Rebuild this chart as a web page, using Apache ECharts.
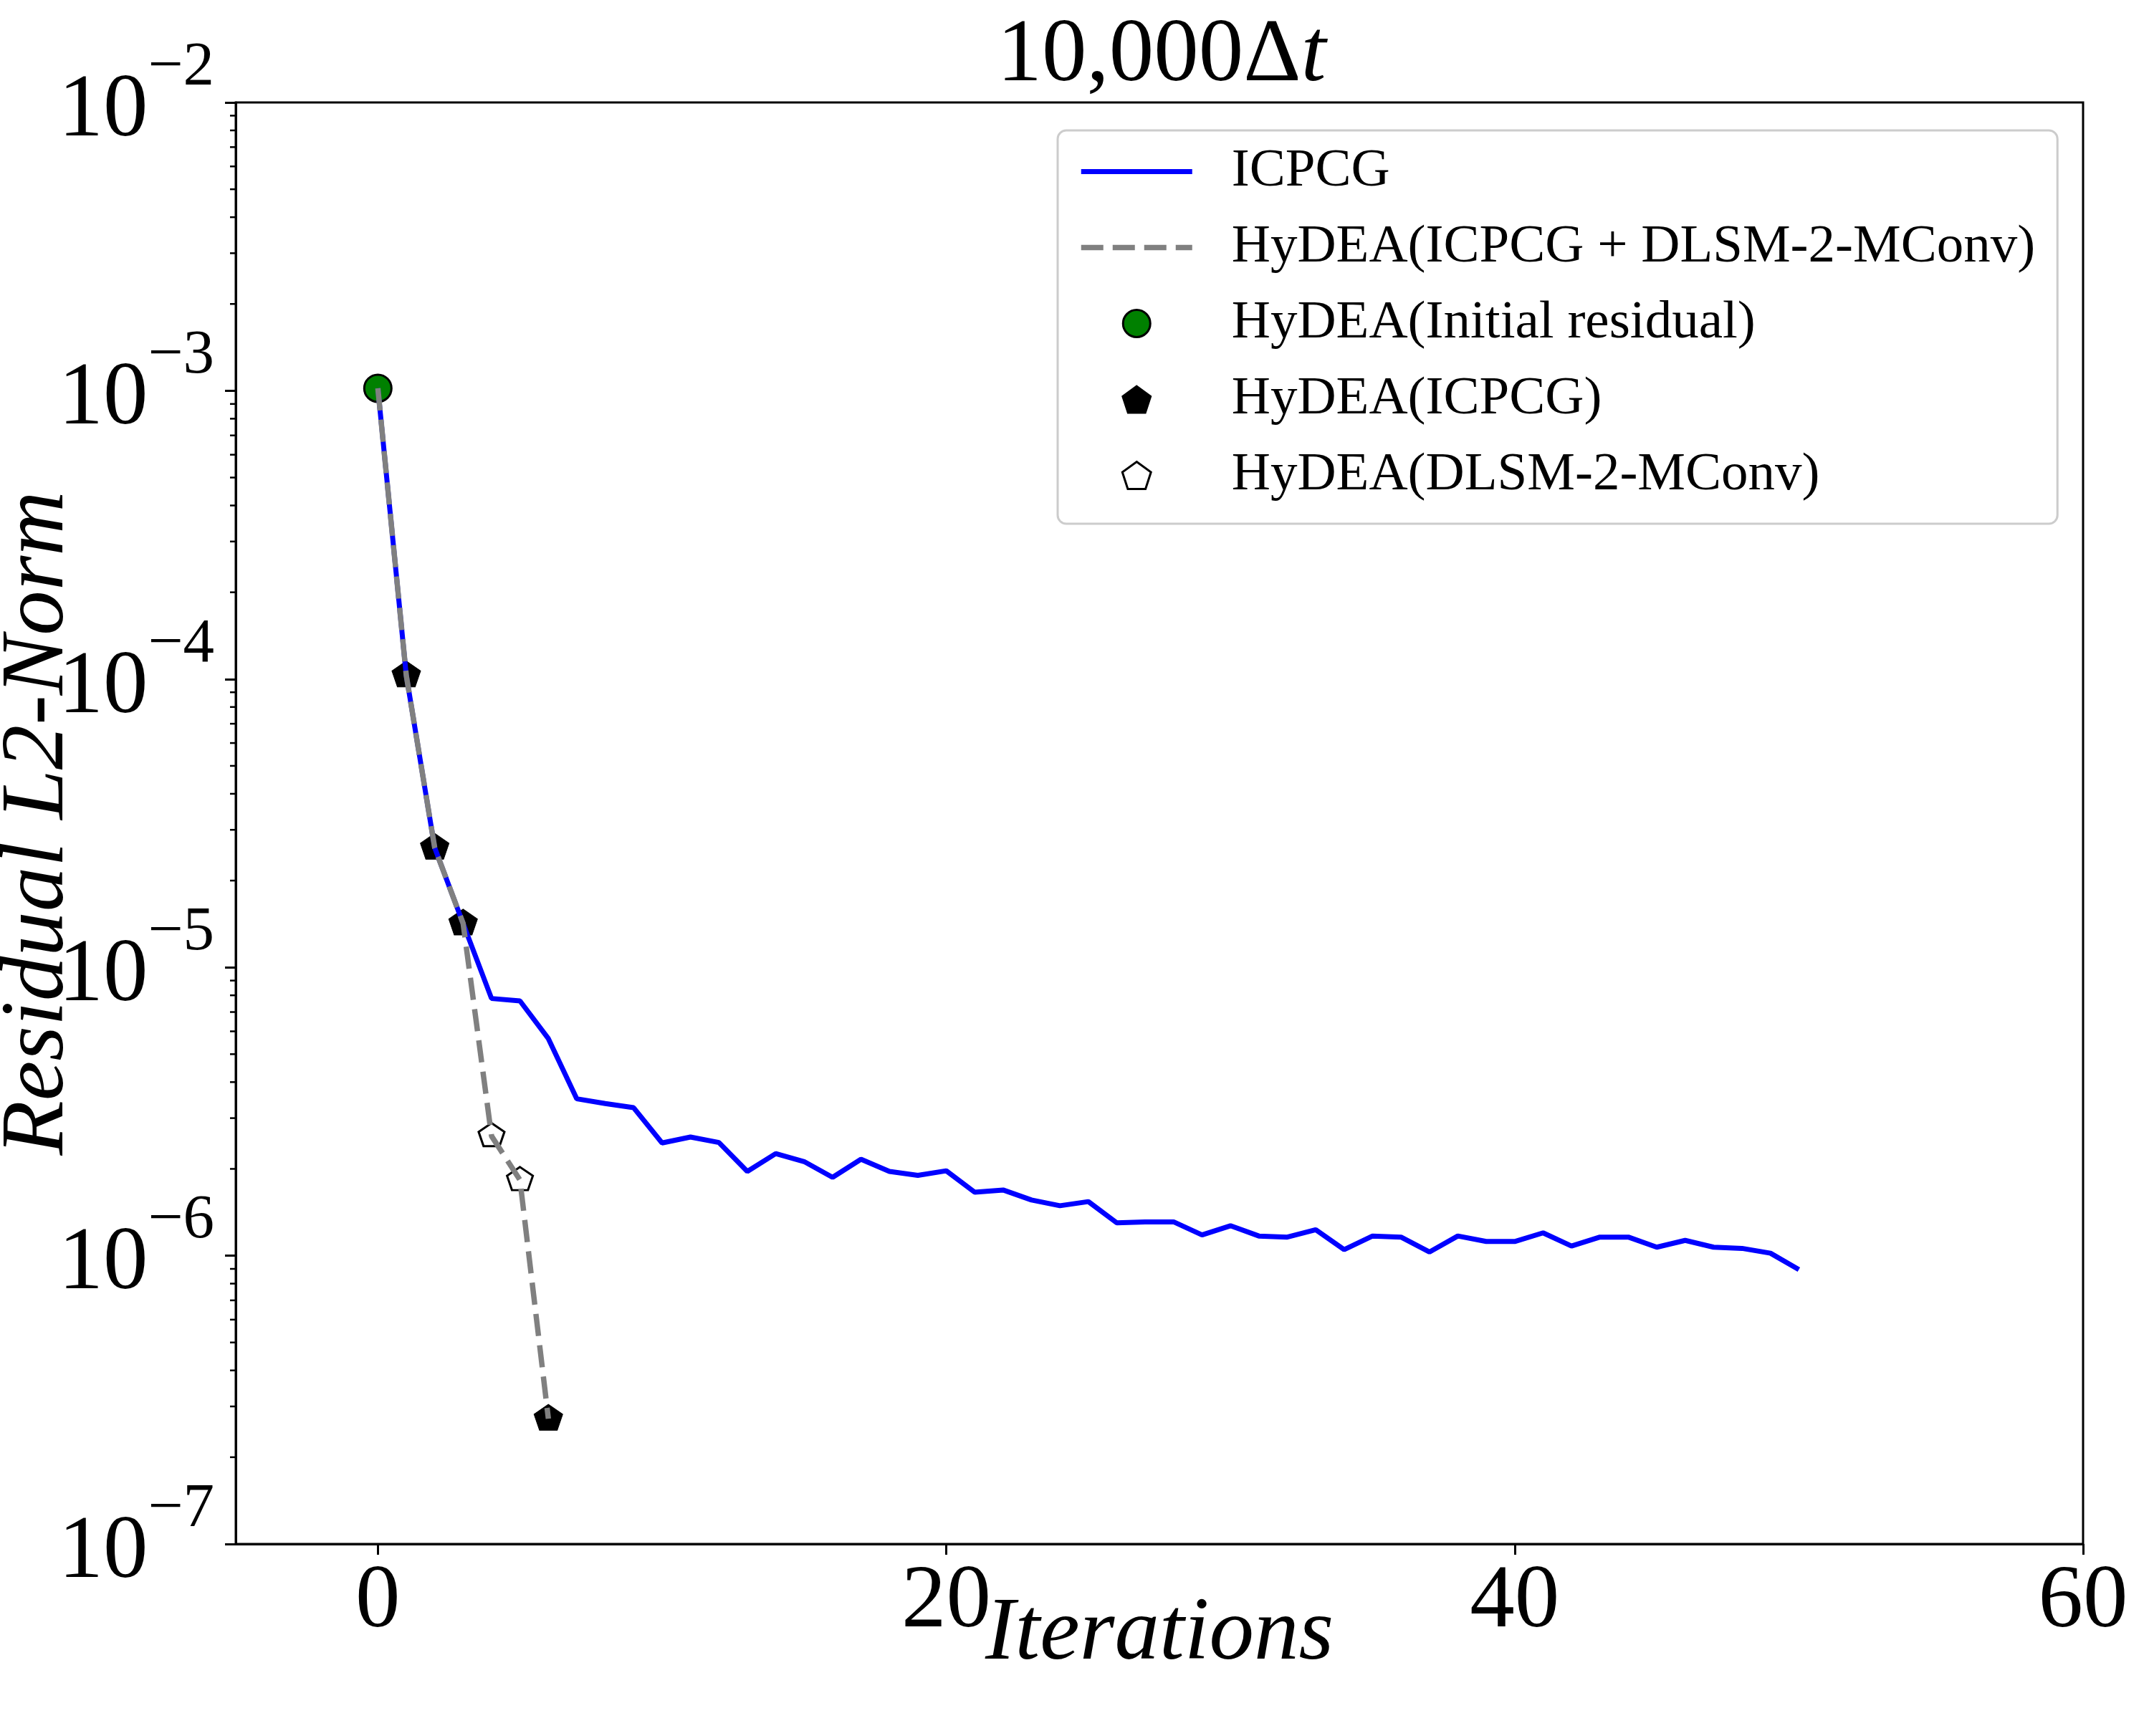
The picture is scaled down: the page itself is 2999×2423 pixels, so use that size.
<!DOCTYPE html>
<html>
<head>
<meta charset="utf-8">
<script src="https://cdn.jsdelivr.net/npm/echarts@6/dist/echarts.min.js"></script>
<style>
  html, body { margin: 0; padding: 0; background: #fff; }
  #chart { width: 2999px; height: 2423px; }
</style>
</head>
<body>
<div id="chart"></div>
<script>
// ICPCG residual per iteration
const icpcgIter = [0, 1, 2, 3, 4, 5, 6, 7, 8, 9,
  10, 11, 12, 13, 14, 15, 16, 17, 18, 19,
  20, 21, 22, 23, 24, 25, 26, 27, 28, 29,
  30, 31, 32, 33, 34, 35, 36, 37, 38, 39,
  40, 41, 42, 43, 44, 45, 46, 47, 48, 49, 50];
const icpcgResidual = [1.02e-3, 1.03e-4, 2.6e-5, 1.42e-5, 7.8e-6, 7.65e-6, 5.66e-6, 3.5e-6, 3.37e-6, 3.26e-6,
  2.46e-6, 2.58e-6, 2.47e-6, 1.96e-6, 2.26e-6, 2.12e-6, 1.87e-6, 2.16e-6, 1.96e-6, 1.90e-6,
  1.97e-6, 1.66e-6, 1.69e-6, 1.56e-6, 1.49e-6, 1.54e-6, 1.30e-6, 1.31e-6, 1.31e-6, 1.18e-6,
  1.27e-6, 1.17e-6, 1.16e-6, 1.23e-6, 1.05e-6, 1.17e-6, 1.16e-6, 1.03e-6, 1.17e-6, 1.12e-6,
  1.12e-6, 1.20e-6, 1.08e-6, 1.16e-6, 1.16e-6, 1.07e-6, 1.13e-6, 1.07e-6, 1.06e-6, 1.02e-6, 8.95e-7];

// HyDEA (ICPCG + DLSM-2-MConv)
const hydeaIter = [0, 1, 2, 3, 4, 5, 6];
const hydeaResidual = [1.02e-3, 1.03e-4, 2.6e-5, 1.42e-5, 2.6e-6, 1.83e-6, 2.72e-7];

// which HyDEA steps get which marker
const initialSteps = [0];
const icpcgSteps = [1, 2, 3, 6];
const dlsmSteps = [4, 5];

const xTicks = [0, 20, 40, 60];
const xMin = -5;
const xMax = 60;
const yMin = 1e-7;
const yMax = 1e-2;

const seriesNames = [
  'ICPCG',
  'HyDEA(ICPCG + DLSM-2-MConv)',
  'HyDEA(Initial residual)',
  'HyDEA(ICPCG)',
  'HyDEA(DLSM-2-MConv)'
];

const FONT = '"Liberation Serif", "Times New Roman", serif';
const pentagon = 'path://M0,-1L0.9511,-0.309L0.5878,0.809L-0.5878,0.809L-0.9511,-0.309Z';
const blueLine = { color: '#0000ff', width: 7 };
const grayLine = { color: '#808080', width: 7.5, type: [31, 13] };
const noMarker = { color: 'rgba(0,0,0,0)', borderColor: 'rgba(0,0,0,0)', borderWidth: 0 };

// log minor ticks 2..9 per decade
const minorTicks = [];
for (let e = -7; e < -2; e++) {
  for (let k = 2; k <= 9; k++) minorTicks.push([xMin, k * Math.pow(10, e)]);
}

function pick(steps) {
  return steps.map(i => [hydeaIter[i], hydeaResidual[i]]);
}

const chart = echarts.init(document.getElementById('chart'));

const option = {
  animation: false,
  backgroundColor: '#fff',
  textStyle: { fontFamily: FONT },
  title: {
    text: '{a|10,000Δ}{b|t}',
    left: 1616,
    top: 12,
    textAlign: 'center',
    textStyle: {
      fontWeight: 'normal',
      rich: {
        a: { fontFamily: FONT, fontSize: 125, fontWeight: 'normal', color: '#000' },
        b: { fontFamily: FONT, fontSize: 125, fontWeight: 'normal', fontStyle: 'italic', color: '#000' }
      }
    }
  },
  legend: {
    orient: 'vertical',
    left: 1476,
    top: 182,
    padding: [20, 31, 30, 29],
    itemWidth: 155,
    itemHeight: 38,
    itemGap: 31,
    backgroundColor: '#fff',
    borderColor: '#cccccc',
    borderWidth: 3,
    borderRadius: 12,
    textStyle: {
      fontFamily: FONT,
      fontSize: 75,
      color: '#000',
      padding: [0, 0, 0, 50]
    },
    data: [
      { name: seriesNames[0], itemStyle: noMarker, lineStyle: blueLine },
      { name: seriesNames[1], itemStyle: noMarker, lineStyle: grayLine },
      { name: seriesNames[2], itemStyle: { borderWidth: 3 } },
      { name: seriesNames[3] },
      { name: seriesNames[4], itemStyle: { borderWidth: 3 } }
    ]
  },
  grid: {
    left: 329,
    right: 92,
    top: 143,
    bottom: 268,
    show: true,
    borderColor: '#000',
    borderWidth: 3,
    containLabel: false,
    outerBoundsMode: 'none'
  },
  xAxis: {
    type: 'value',
    min: xMin,
    max: xMax,
    name: 'Iterations',
    nameLocation: 'middle',
    nameGap: 65,
    nameMoveOverlap: false,
    nameTextStyle: { fontFamily: FONT, fontSize: 125, fontStyle: 'italic', color: '#000' },
    splitLine: { show: false },
    axisLine: { show: true, onZero: false, lineStyle: { color: '#000', width: 3 } },
    axisTick: { show: true, length: 15, lineStyle: { color: '#000', width: 3 }, customValues: xTicks },
    axisLabel: {
      fontFamily: FONT, fontSize: 125, color: '#000', margin: 20,
      customValues: xTicks
    }
  },
  yAxis: {
    type: 'log',
    logBase: 10,
    min: yMin,
    max: yMax,
    interval: 1,
    name: 'Residual L2-Norm',
    nameLocation: 'middle',
    nameRotate: 90,
    nameGap: 212,
    nameMoveOverlap: false,
    nameTextStyle: { fontFamily: FONT, fontSize: 125, fontStyle: 'italic', color: '#000' },
    splitLine: { show: false },
    axisLine: { show: true, onZero: false, lineStyle: { color: '#000', width: 3 } },
    axisTick: { show: true, length: 15, lineStyle: { color: '#000', width: 3 } },
    minorTick: { show: false },
    axisLabel: {
      margin: 30,
      showMinLabel: true,
      showMaxLabel: true,
      formatter: v => '{b|10}{s|\u2212' + Math.abs(Math.round(Math.log10(v))) + '}',
      rich: {
        b: { fontFamily: FONT, fontSize: 125, lineHeight: 183, verticalAlign: 'bottom', padding: [0, 0, 16, 0], color: '#000' },
        s: { fontFamily: FONT, fontSize: 87, lineHeight: 183, verticalAlign: 'top', color: '#000' }
      }
    }
  },
  series: [
    {
      name: seriesNames[0],
      type: 'line',
      data: icpcgIter.map((x, i) => [x, icpcgResidual[i]]),
      symbol: 'none',
      showSymbol: false,
      lineStyle: blueLine,
      itemStyle: { color: '#0000ff' }
    },
    {
      name: seriesNames[1],
      type: 'line',
      data: hydeaIter.map((x, i) => [x, hydeaResidual[i]]),
      symbol: 'none',
      showSymbol: false,
      lineStyle: grayLine,
      itemStyle: { color: '#808080' }
    },
    {
      name: seriesNames[2],
      type: 'scatter',
      data: pick(initialSteps),
      symbol: 'circle',
      symbolSize: 38,
      itemStyle: { color: '#008000', borderColor: '#000', borderWidth: 3, opacity: 1 }
    },
    {
      name: seriesNames[3],
      type: 'scatter',
      data: pick(icpcgSteps),
      symbol: pentagon,
      symbolKeepAspect: true,
      symbolSize: [40, 38],
      symbolOffset: [0, -2],
      itemStyle: { color: '#000', borderColor: '#000', borderWidth: 1, opacity: 1 }
    },
    {
      name: seriesNames[4],
      type: 'scatter',
      data: pick(dlsmSteps),
      symbol: pentagon,
      symbolKeepAspect: true,
      symbolSize: [36, 34],
      symbolOffset: [0, -2],
      itemStyle: { color: '#fff', borderColor: '#000', borderWidth: 3, opacity: 1 }
    },
    {
      // minor ticks of the log axis
      type: 'custom',
      silent: true,
      clip: false,
      data: minorTicks,
      renderItem: (params, api) => {
        const p = api.coord([api.value(0), api.value(1)]);
        return {
          type: 'line',
          shape: { x1: p[0] - 8, y1: p[1], x2: p[0], y2: p[1] },
          style: { stroke: '#000', lineWidth: 2.5 }
        };
      }
    }
  ]
};

chart.setOption(option);
</script>
</body>
</html>
